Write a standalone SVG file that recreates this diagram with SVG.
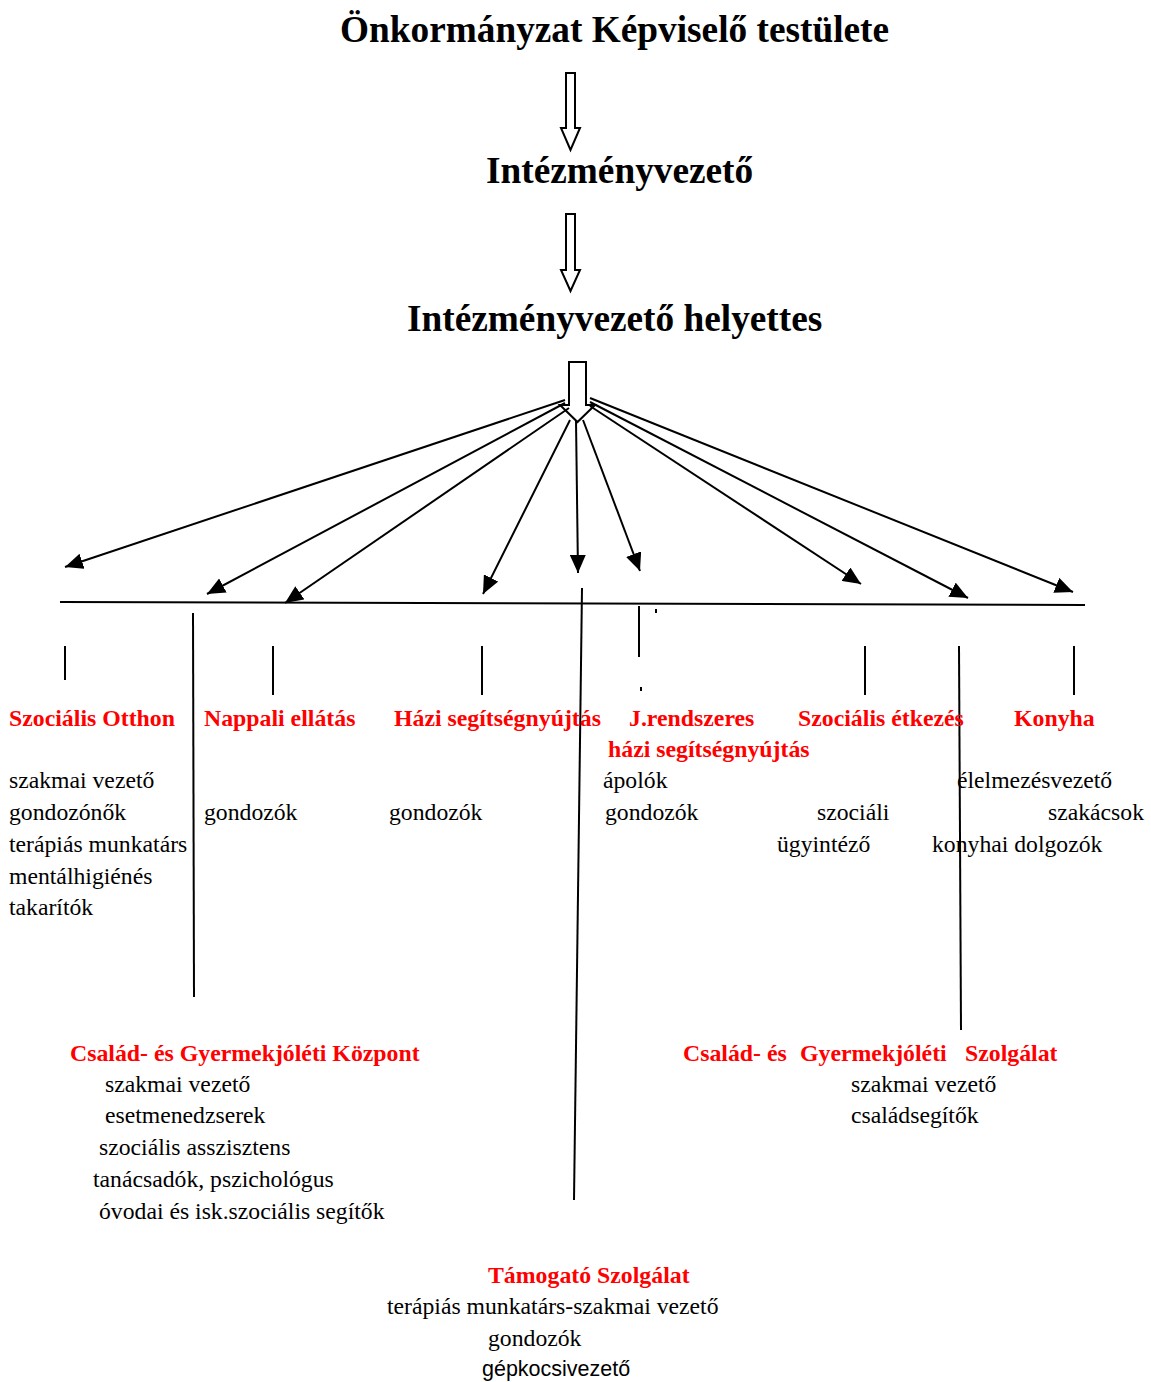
<svg xmlns="http://www.w3.org/2000/svg" width="1151" height="1382" viewBox="0 0 1151 1382">
<defs>
<style>
.t{font-family:"Liberation Serif","Times New Roman",serif;font-weight:bold;font-size:37.3px;fill:#000}
.r{font-family:"Liberation Serif","Times New Roman",serif;font-weight:bold;font-size:23.8px;fill:#ff0000}
.b{font-family:"Liberation Serif","Times New Roman",serif;font-size:23.7px;fill:#000}
.s{font-family:"Liberation Sans",Arial,sans-serif;font-size:21.5px;fill:#000}
.ln{stroke:#000;stroke-width:2;fill:none}
.hol{fill:#fff;stroke:#000;stroke-width:2;stroke-linejoin:miter}
</style>
<marker id="ah" markerUnits="userSpaceOnUse" markerWidth="20" markerHeight="16" refX="18" refY="8" orient="auto">
<path d="M0,0 L18,8 L0,16 Z" fill="#000"/>
</marker>
</defs>
<rect width="1151" height="1382" fill="#fff"/>

<g id="n-testulet"><text class="t" x="340" y="42">Önkormányzat Képviselő testülete</text></g>
<g id="n-vezeto"><text class="t" x="486" y="183">Intézményvezető</text></g>
<g id="n-helyettes"><text class="t" x="407" y="331">Intézményvezető helyettes</text></g>

<g id="connectors">
<path class="hol" d="M566,73 H575 V128 H580 L570.5,150 L561,128 H566 Z"/>
<path class="hol" d="M566,214 H575 V270 H580 L570.5,291 L561,270 H566 Z"/>
<path class="hol" d="M569,362 H586 V405 H595 L577.5,422 L560,405 H569 Z"/>
<g class="ln" marker-end="url(#ah)">
<line x1="565" y1="400" x2="65" y2="567"/>
<line x1="565" y1="403" x2="207" y2="594"/>
<line x1="569" y1="408" x2="285" y2="603"/>
<line x1="570" y1="420" x2="483" y2="594"/>
<line x1="576" y1="420" x2="578" y2="573"/>
<line x1="583" y1="420" x2="640" y2="571"/>
<line x1="590" y1="406" x2="861" y2="584"/>
<line x1="590" y1="402" x2="968" y2="598"/>
<line x1="590" y1="398" x2="1073" y2="592"/>
</g>
<line class="ln" x1="60" y1="602" x2="1085" y2="605"/>
<line class="ln" x1="65" y1="646" x2="65" y2="680"/>
<line class="ln" x1="193" y1="613" x2="194" y2="997"/>
<line class="ln" x1="273" y1="646" x2="273" y2="695"/>
<line class="ln" x1="482" y1="646" x2="482" y2="695"/>
<line class="ln" x1="582" y1="588" x2="574" y2="1200"/>
<line class="ln" x1="639" y1="606" x2="639" y2="657"/>
<line class="ln" x1="656" y1="609" x2="656" y2="613"/>
<line class="ln" x1="641" y1="687" x2="641" y2="691"/>
<line class="ln" x1="865" y1="646" x2="865" y2="695"/>
<line class="ln" x1="959" y1="646" x2="961" y2="1030"/>
<line class="ln" x1="1074" y1="646" x2="1074" y2="695"/>
</g>

<g id="n-szocotthon">
<text class="r" x="9" y="726">Szociális Otthon</text>
<text class="b" x="9" y="788">szakmai vezető</text>
<text class="b" x="9" y="820">gondozónők</text>
<text class="b" x="9" y="852">terápiás munkatárs</text>
<text class="b" x="9" y="884">mentálhigiénés</text>
<text class="b" x="9" y="915">takarítók</text>
</g>
<g id="n-nappali">
<text class="r" x="204" y="726">Nappali ellátás</text>
<text class="b" x="204" y="820">gondozók</text>
</g>
<g id="n-hazi">
<text class="r" x="394" y="726">Házi segítségnyújtás</text>
<text class="b" x="389" y="820">gondozók</text>
</g>
<g id="n-jrendszeres">
<text class="r" x="629" y="726">J.rendszeres</text>
<text class="r" x="608" y="757">házi segítségnyújtás</text>
<text class="b" x="603" y="788">ápolók</text>
<text class="b" x="605" y="820">gondozók</text>
</g>
<g id="n-etkezes">
<text class="r" x="798" y="726">Szociális étkezés</text>
<text class="b" x="817" y="820">szociáli</text>
<text class="b" x="777" y="852">ügyintéző</text>
</g>
<g id="n-konyha">
<text class="r" x="1014" y="726">Konyha</text>
<text class="b" x="957" y="788">élelmezésvezető</text>
<text class="b" x="1048" y="820">szakácsok</text>
<text class="b" x="932" y="852">konyhai dolgozók</text>
</g>
<g id="n-csgyk">
<text class="r" x="70" y="1061">Család- és Gyermekjóléti Központ</text>
<text class="b" x="105" y="1092">szakmai vezető</text>
<text class="b" x="105" y="1123">esetmenedzserek</text>
<text class="b" x="99" y="1155">szociális asszisztens</text>
<text class="b" x="93" y="1187">tanácsadók, pszichológus</text>
<text class="b" x="99" y="1219">óvodai és isk.szociális segítők</text>
</g>
<g id="n-csgysz">
<text class="r" y="1061"><tspan x="683">Család- és</tspan><tspan x="800">Gyermekjóléti</tspan><tspan x="965">Szolgálat</tspan></text>
<text class="b" x="851" y="1092">szakmai vezető</text>
<text class="b" x="851" y="1123">családsegítők</text>
</g>
<g id="n-tamogato">
<text class="r" x="488" y="1283">Támogató Szolgálat</text>
<text class="b" x="387" y="1314">terápiás munkatárs-szakmai vezető</text>
<text class="b" x="488" y="1346">gondozók</text>
<text class="s" x="482" y="1376">gépkocsivezető</text>
</g>
</svg>
